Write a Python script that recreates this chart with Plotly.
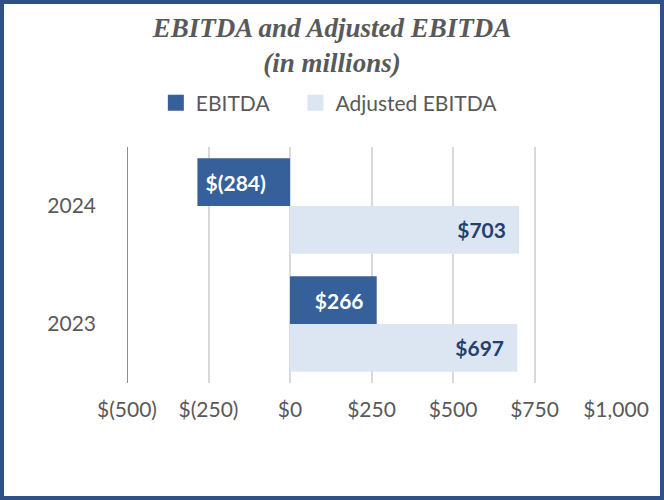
import plotly.graph_objects as go

years = ["2024", "2023"]
ebitda = [-284, 266]
adj_ebitda = [703, 697]
tick_vals = [-500, -250, 0, 250, 500, 750, 1000]
tick_text = ["$(500)", "$(250)", "$0", "$250", "$500", "$750", "$1,000"]
series_names = ["EBITDA", "Adjusted EBITDA"]


def fmt(v):
    if v < 0:
        return f"&nbsp;$({abs(v):,})"
    return f"${v:,}&nbsp;&nbsp;"


FONT = "Lato"
GRAY = "#595959"
C_EB = "#35609A"
C_ADJ = "#DCE6F2"

fig = go.Figure()
fig.add_trace(go.Bar(
    name=series_names[0], y=years, x=ebitda, orientation="h",
    marker=dict(color=C_EB, line=dict(width=0)),
    text=[fmt(v) for v in ebitda], textposition="inside", insidetextanchor="end",
    textfont=dict(family=FONT, size=21, color="white", weight="bold"),
    hoverinfo="skip", showlegend=False,
))
fig.add_trace(go.Bar(
    name=series_names[1], y=years, x=adj_ebitda, orientation="h",
    marker=dict(color=C_ADJ, line=dict(width=0)),
    text=[fmt(v) for v in adj_ebitda], textposition="inside", insidetextanchor="end",
    textfont=dict(family=FONT, size=21, color="#24406E", weight="bold"),
    hoverinfo="skip", showlegend=False,
))
# legend entries with larger square swatches
for nm, col, pad in [(series_names[0], C_EB, "&nbsp;" * 4), (series_names[1], C_ADJ, "")]:
    fig.add_trace(go.Scatter(
        name=nm + pad, x=[None], y=[None], mode="markers",
        marker=dict(symbol="square", size=16, color=col, line=dict(width=0)),
        showlegend=True, hoverinfo="skip",
    ))

L, R, T, B = 127, 48, 147, 117
W, H = 664, 500
pw, ph = W - L - R, H - T - B

fig.update_layout(
    width=W, height=H,
    margin=dict(l=L, r=R, t=T, b=B, autoexpand=False),
    paper_bgcolor="white", plot_bgcolor="white",
    barmode="group", bargap=0.19, bargroupgap=0,
    title=dict(
        text="<b><i>EBITDA and Adjusted EBITDA<br>(in millions)</i></b>",
        font=dict(family="Liberation Serif", size=27, color=GRAY),
        x=0.5, xref="container", xanchor="center",
        y=1 - 37 / H, yref="container", yanchor="middle",
    ),
    legend=dict(
        orientation="h", x=0.496, xref="container", xanchor="center",
        y=1 - 103 / H, yref="container", yanchor="middle",
        font=dict(family=FONT, size=21, color=GRAY),
        itemsizing="trace", itemwidth=30, traceorder="normal",
    ),
    xaxis=dict(
        range=[-500, 1000], tickvals=tick_vals, ticktext=tick_text,
        showgrid=True, gridcolor="#D9D9D9", gridwidth=1.5,
        zeroline=False, showline=False, ticks="",
        tickfont=dict(family=FONT, size=21, color=GRAY),
        ticklabelstandoff=12, fixedrange=True,
    ),
    yaxis=dict(
        type="category", categoryorder="array", categoryarray=years,
        autorange="reversed", showgrid=False, zeroline=False,
        showline=False, ticks="",
        tickfont=dict(family=FONT, size=21, color=GRAY),
        ticklabelstandoff=30, fixedrange=True,
    ),
    shapes=[
        dict(type="line", xref="x", yref="paper", x0=-500, x1=-500, y0=0, y1=1,
             line=dict(color="#8C8C8C", width=2)),
        dict(type="rect", xref="paper", yref="paper",
             x0=(2 - L) / pw, x1=(W - 2 - L) / pw,
             y0=(ph + T - (H - 2)) / ph, y1=(ph + T - 2) / ph,
             line=dict(color="#2F5188", width=4), fillcolor="rgba(0,0,0,0)"),
    ],
    showlegend=True,
)

fig.write_html(
    "out.html",
    config={"displayModeBar": False},
    post_script="document.body.style.margin='0';document.body.style.overflow='hidden';",
)
